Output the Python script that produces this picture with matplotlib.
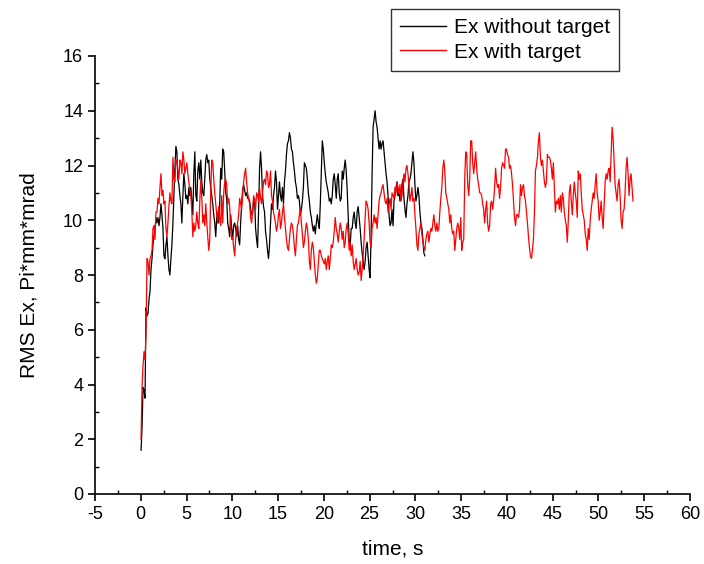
import numpy as np
import matplotlib
matplotlib.use("Agg")
import matplotlib.pyplot as plt
from matplotlib.ticker import MultipleLocator

# ---- data (uniform sampling in time) ----
T0 = 0.03          # first sample time, s
DT = 0.1088        # sampling step, s

ex_without_target = [
    # 0 - 10.5 s
    1.6, 2.4, 3.9, 3.8, 3.5, 6.8, 6.5, 6.6, 7.1, 7.4,
    8.2, 8.6, 9.1, 9.4, 9.7, 10.1, 9.9, 10.1, 9.8, 10.1,
    10.6, 10.2, 9.7, 8.7, 8.6, 9.1, 9.4, 8.7, 8.2, 8.0,
    8.6, 9.1, 9.9, 10.9, 11.9, 12.7, 12.5, 11.5, 11.3, 10.9,
    10.6, 9.9, 10.9, 11.7, 11.3, 10.8, 10.9, 10.6, 11.2, 10.9,
    11.2, 10.7, 10.2, 11.7, 12.5, 10.9, 10.7, 11.8, 12.1, 11.5,
    12.2, 11.4, 11.0, 10.9, 11.5, 12.2, 12.4, 12.1, 12.2, 11.5,
    11.2, 10.9, 10.6, 10.2, 9.9, 9.4, 10.1, 10.3, 9.9, 10.6,
    11.9, 11.5, 12.6, 12.5, 11.8, 11.0, 10.8, 9.9, 9.7, 9.4,
    10.2, 9.7, 9.3, 9.8, 9.9, 9.7, 9.4,
    # 10.6 - 22 s
    9.8, 9.3, 9.1, 9.9, 10.6, 11.1, 11.3, 11.1, 10.9, 11.0,
    10.8, 10.8, 10.7, 10.4, 10.2, 10.3, 10.7, 10.8, 9.7, 9.3, 9.0,
    10.3, 11.9, 12.5, 11.9, 10.9, 10.5, 10.3, 9.6, 9.3, 8.9, 8.6, 9.1, 9.9,
    10.6, 10.4, 10.9, 11.2, 11.8, 11.4, 10.4, 10.9, 11.4, 10.9,
    10.7, 11.2, 10.6, 11.4, 11.8, 12.4, 12.8, 12.9, 13.2, 13.0,
    12.6, 12.5, 12.1, 11.8, 11.4, 11.2, 10.8, 10.9, 10.7, 10.2,
    10.4, 10.7, 11.2, 12.1, 12.0, 11.9, 11.5, 11.0, 10.7, 10.3,
    10.1, 9.8, 9.6, 9.8, 9.5, 9.9, 10.2, 9.9, 9.7, 10.6,
    11.8, 12.9, 12.6, 12.1, 11.7, 11.4, 11.2, 11.0, 10.7, 10.8,
    10.6, 10.9, 11.5, 11.7, 11.3, 10.8, 11.5, 11.7, 11.0, 10.7,
    10.8,
    # 22 - 31 s
    11.8, 11.5, 11.9, 12.2, 11.8, 11.1, 10.1, 9.2, 9.1, 9.7,
    9.7, 10.1, 10.3, 9.9, 9.7, 10.3, 10.5, 10.1, 9.7, 9.2,
    8.8, 8.5, 8.2, 8.5, 9.0, 9.2, 8.7, 8.2, 7.9, 9.5,
    11.7, 13.4, 13.7, 14.0, 13.6, 13.4, 13.0, 12.6, 12.9, 12.6,
    12.8, 12.9, 12.5, 12.1, 11.7, 11.4, 10.9, 10.2, 9.8, 9.9,
    10.4, 9.8, 10.7, 10.9, 11.2, 11.4, 10.9, 11.0, 10.7, 10.8,
    11.3, 11.5, 10.8, 10.4, 10.1, 10.6, 10.9, 11.4, 11.5, 11.7,
    12.1, 12.5, 12.1, 11.3, 10.7, 10.9, 11.2, 10.9, 10.3, 9.9,
    9.7, 9.3, 8.8, 8.7,
]

ex_with_target = [
    # 0 - 10.7 s
    2.0, 3.9, 4.7, 5.2, 4.9, 5.9, 8.6, 8.5, 8.0, 8.6,
    8.7, 8.9, 9.7, 9.8, 9.3, 10.3, 10.3, 10.8, 10.6, 11.2,
    11.7, 10.9, 11.1, 10.6, 10.7, 9.7, 9.4, 9.9, 10.5, 11.0,
    10.7, 10.6, 12.3, 11.5, 11.4, 12.2, 12.2, 11.8, 11.5, 12.2,
    12.1, 11.7, 12.5, 12.2, 11.7, 11.9, 12.1, 11.7, 11.4, 11.1,
    10.9, 10.3, 9.4, 9.9, 9.6, 9.8, 10.3, 9.9, 9.7, 10.7,
    11.5, 10.8, 9.9, 10.2, 9.8, 10.6, 9.9, 9.4, 8.9, 9.3,
    11.1, 12.2, 12.1, 11.5, 11.0, 10.6, 10.2, 9.9, 10.5, 10.1,
    9.8, 10.9, 9.9, 11.0, 11.4, 11.5, 11.3, 10.6, 10.8, 10.5,
    9.7, 9.3, 9.4, 9.0, 8.7, 9.3, 9.7, 9.9, 10.2,
    # 10.8 - 22 s
    10.8, 10.6, 10.4, 10.9, 11.4, 11.7, 11.9, 11.4, 11.0, 10.8,
    10.6, 10.1, 9.9, 10.3, 10.9, 10.7, 10.4, 11.0, 10.9, 10.7,
    11.2, 10.8, 10.6, 11.0, 11.4, 11.5, 11.3, 11.8, 11.7, 11.2,
    11.3, 11.8, 10.9, 10.7, 10.3, 10.1, 9.9, 9.6, 9.8, 10.2,
    10.4, 9.7, 9.9, 10.3, 10.6, 10.1, 9.7, 9.3, 9.0, 8.9,
    9.3, 9.7, 9.9, 9.8, 9.5, 9.0, 8.7, 9.3, 9.8, 9.9,
    10.2, 10.4, 9.9, 9.5, 9.0, 9.2, 9.6, 9.9, 9.7, 9.3,
    8.5, 8.2, 8.9, 9.2, 9.0, 8.5, 8.0, 7.7, 7.9, 8.4,
    8.9, 8.9, 8.7, 8.6, 8.5, 8.4, 8.6, 8.2, 8.5, 8.7,
    8.2, 8.6, 9.1, 9.0, 9.2, 9.6, 10.1, 9.7, 9.5, 9.2,
    9.6, 9.9, 9.7, 9.3, 9.6,
    # 22 - 33.5 s
    9.0, 9.2, 9.7, 9.9, 9.5, 8.9, 9.2, 8.7, 9.1, 8.5,
    8.2, 8.4, 8.6, 8.2, 8.0, 8.1, 8.5, 7.8, 8.2, 8.7,
    9.3, 10.1, 10.7, 10.6, 10.4, 9.9, 9.2, 9.0, 9.7, 9.9,
    10.2, 9.9, 10.1, 9.7, 10.2, 10.7, 10.9, 11.0, 11.2, 11.3,
    11.0, 10.7, 10.6, 10.8, 10.3, 10.6, 10.8, 10.4, 11.0, 10.9,
    10.8, 11.2, 11.0, 11.4, 11.2, 11.0, 11.3, 10.7, 10.9, 11.4,
    11.7, 11.4, 11.9, 12.0, 11.7, 11.3, 10.7, 10.9, 11.2, 10.7,
    10.8, 10.2, 9.7, 9.1, 8.9, 9.5, 9.7, 9.9, 9.5, 9.2,
    9.0, 8.9, 9.3, 9.5, 9.6, 9.2, 9.5, 9.7, 9.6, 9.9,
    10.2, 9.8, 9.6, 9.9, 9.6, 9.7, 10.3, 10.8, 11.2, 11.9,
    12.2, 11.8, 11.0, 10.8, 10.6,
    # 33.6 - 45 s
    10.4, 9.9, 10.2, 9.7, 9.5, 9.6, 8.9, 9.3, 9.7, 9.9,
    9.7, 9.3, 10.1, 8.9, 9.2,
    9.3, 11.5, 12.5, 12.4, 11.3, 10.9, 11.5, 12.9, 12.9, 12.1,
    11.7, 12.1, 12.5, 11.9, 11.5, 11.3, 11.0, 11.0, 10.9, 10.6,
    10.4, 9.9, 10.4, 10.7, 9.9, 9.6, 9.8, 10.6, 10.7, 10.4,
    10.7, 11.2, 11.9, 11.4, 11.2, 11.3, 10.8, 11.2, 11.9, 12.1,
    12.0, 11.9, 12.6, 12.6, 12.4, 12.3, 11.9, 12.0, 11.7, 11.3,
    10.7, 10.1, 9.8, 10.2, 10.2, 10.1, 10.4, 11.3, 10.9, 11.2,
    11.3, 10.9, 10.7, 10.3, 9.9, 9.4, 9.0, 8.7, 8.6, 8.9,
    9.3, 10.3, 11.8, 12.0, 12.3, 12.9, 13.2, 12.3, 12.0, 12.2,
    11.8, 11.4, 11.2, 11.4, 12.4, 12.3, 12.3, 12.2, 11.9, 11.5,
    # 45 - 54 s
    12.1, 11.2, 10.3, 10.7, 10.6, 10.8, 10.4, 10.9, 10.3, 11.0,
    10.8, 10.3, 10.0, 9.8, 9.2, 10.0, 11.0, 11.3, 10.7, 10.2,
    10.9, 11.4, 11.0, 10.7, 10.1, 11.8, 11.5, 11.7, 11.0, 10.4,
    10.2, 10.0, 9.5, 9.3, 8.9, 9.7, 9.3, 10.0, 10.4, 10.7,
    11.0, 10.8, 11.3, 11.7, 11.0, 10.7, 10.0, 10.3, 10.7, 10.1,
    9.7, 10.6, 11.4, 11.7, 11.5, 11.8, 11.9, 11.4, 12.4, 13.4,
    13.0, 12.1, 11.3, 11.0, 10.7, 11.3, 11.5, 10.9, 10.0, 9.7,
    10.3, 10.4, 11.0, 11.9, 12.3, 11.7, 10.9, 11.5, 11.7, 11.2,
    10.7,
]

series_labels = ["Ex without target", "Ex with target"]
x_label = "time, s"
y_label = "RMS Ex, Pi*mm*mrad"

t_without = T0 + DT * np.arange(len(ex_without_target))
t_with = T0 + DT * np.arange(len(ex_with_target))

# ---- plot ----
plt.rcParams["font.family"] = ["Liberation Sans", "DejaVu Sans"]
plt.rcParams["axes.unicode_minus"] = False
fig = plt.figure(figsize=(7.04, 5.64), dpi=100)
ax = fig.add_axes([95 / 704, 1 - 494 / 564, (690 - 95) / 704, (494 - 56) / 564])

ax.plot(t_without, ex_without_target, color="black", lw=0.9, label=series_labels[0])
ax.plot(t_with, ex_with_target, color="red", lw=0.9, label=series_labels[1])

ax.set_xlim(-5, 60)
ax.set_ylim(0, 16)
ax.xaxis.set_major_locator(MultipleLocator(5))
ax.xaxis.set_minor_locator(MultipleLocator(2.5))
ax.yaxis.set_major_locator(MultipleLocator(2))
ax.yaxis.set_minor_locator(MultipleLocator(1))

for s in ("top", "right"):
    ax.spines[s].set_visible(False)
for s in ("left", "bottom"):
    ax.spines[s].set_linewidth(1.2)

ax.tick_params(which="major", direction="out", length=5, width=1.2, labelsize=13)
ax.tick_params(which="minor", direction="in", length=3, width=1.0)

ax.set_xlabel(x_label, fontsize=15, labelpad=12)
ax.set_ylabel(y_label, fontsize=15, labelpad=18)

leg = fig.legend(loc="upper left", bbox_to_anchor=(391 / 704, 1 - 9 / 564),
                 fontsize=15, frameon=True, fancybox=False, shadow=False,
                 handlelength=2.2, handletextpad=0.35, labelspacing=0.25,
                 borderpad=0.45, borderaxespad=0)
leg.get_frame().set_edgecolor("black")
leg.get_frame().set_linewidth(1.0)
for line in leg.get_lines():
    line.set_linewidth(1.0)

fig.savefig("out.png", dpi=100)
